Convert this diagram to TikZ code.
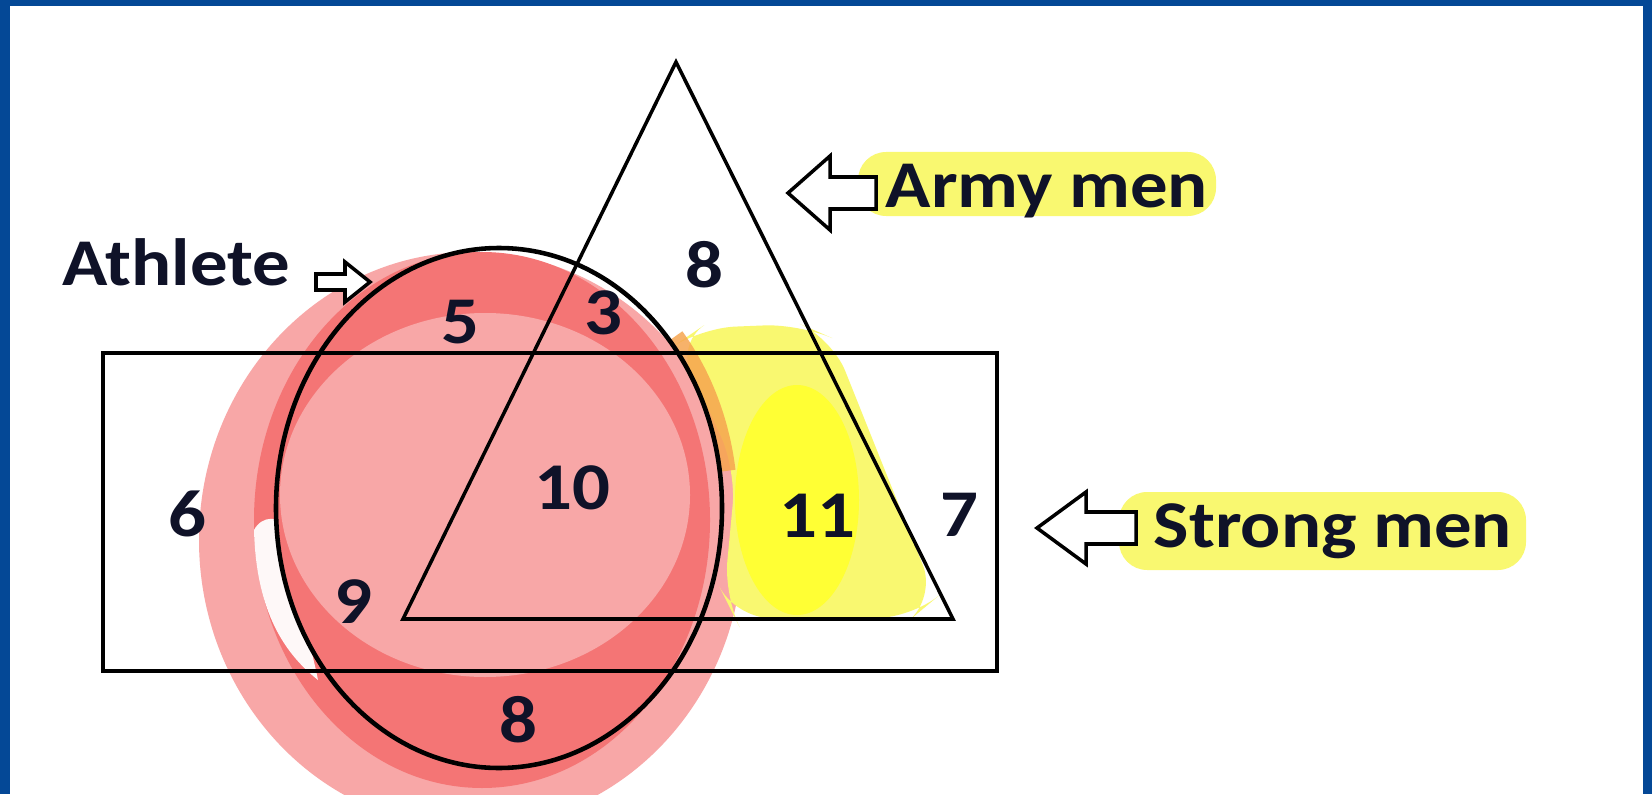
\documentclass[tikz,border=0pt]{standalone}
\usepackage{fontspec}
\setmainfont{Carlito}[FakeStretch=1.12]
\usepackage{xcolor}
\definecolor{frameblue}{RGB}{4,72,150}
\definecolor{pinklight}{RGB}{248,167,167}
\definecolor{pinkdark}{RGB}{244,117,117}
\definecolor{hlyellow}{RGB}{249,248,112}
\definecolor{brightyellow}{RGB}{255,255,52}
\definecolor{hlorange}{RGB}{246,165,80}
\definecolor{inkcol}{RGB}{15,18,40}

\tikzset{
  setline/.style={draw=black, line width=1pt},
  pointer/.style={draw=black, fill=white, line width=1pt, line join=miter},
  lbl/.style={inner sep=0pt, text=inkcol},
  num/.style={inner sep=0pt, text=inkcol}
}

\begin{document}
\begin{tikzpicture}[x=0.01cm, y=-0.01cm, font=\bfseries\fontsize{19}{19}\selectfont, text centered]
    \useasboundingbox (0,0) rectangle (1652,794);
    \clip (0,0) rectangle (1652,794);
    % Frame
    \fill[frameblue] (0,0) rectangle (1652,794);
    \fill[white] (10,6) rectangle (1643,794);

    % Marker strokes
    \fill[pinklight] (471,540) ellipse [x radius=272, y radius=288];
    \fill[pinkdark] (482,520) ellipse [x radius=228, y radius=268];
    \fill[pinklight] (485,495) ellipse [x radius=205, y radius=182];
    \begin{scope}[even odd rule]
      \clip (0,0) rectangle (1652,794) (499,508) ellipse [x radius=223, y radius=260];
      \fill[white!92!pinklight] (254,530) .. controls (256,605) and (280,650) .. (318,680)
        .. controls (310,640) and (296,600) .. (292,530) .. controls (280,515) and (262,515) .. (254,530) -- cycle;
    \end{scope}
    \fill[hlyellow, rounded corners=10pt] (675,345) -- (700,328) -- (800,324) -- (832,338)
      -- (936,598) -- (912,618) -- (735,618) -- (724,596) -- (736,470) -- (700,390) -- cycle;
    \draw[hlorange, line width=5pt, opacity=0.85] (499,508) ++(-40:230 and 267) arc [start angle=-40, end angle=-8, x radius=230, y radius=267];
    \fill[brightyellow] (797,500) ellipse [x radius=62, y radius=115];
    \fill[hlyellow, rounded corners=8pt] (858,152) rectangle (1216,216);
    \fill[hlyellow, rounded corners=8pt] (1119,492) rectangle (1526,570);

    % Sets
    \draw[setline] (103,353) rectangle (997,671);
    \draw[setline] (676,62) -- (953,619) -- (403,619) -- cycle;
    \draw[setline, line width=1.3pt] (499,508) ellipse [x radius=223, y radius=260];

    % Set names
    \node[lbl, anchor=base west] (athlete) at (62,285) {Athlete};
    \node[lbl, anchor=base west] (army) at (885,208) {Army men};
    \node[lbl, anchor=base west] (strong) at (1153,547) {Strong men};

    % Pointers
    \draw[pointer] (370,282) -- (345,262) -- (345,274) -- (316,274) -- (316,290) -- (345,290) -- (345,302) -- cycle;
    \draw[pointer] (788,193) -- (830,156) -- (830,177) -- (876,177) -- (876,209) -- (830,209) -- (830,230) -- cycle;
    \draw[pointer] (1037,528) -- (1086,492) -- (1086,512) -- (1136,512) -- (1136,544) -- (1086,544) -- (1086,564) -- cycle;

    % Region counts
    \node[num] (armyonly) at (704,265) {8};
    \node[num] (athout) at (460,322) {5};
    \node[num] (atharmy) at (603,313) {3};
    \node[num] (strongonly) at (187,514) {6};
    \node[num] (allthree) at (572,488) {10};
    \node[num] (armystrong) at (817,516) {11};
    \node[num] (strongright) at (959,515) {7};
    \node[num] (athstrong) at (353,602) {9};
    \node[num] (athonly) at (518,720) {8};
\end{tikzpicture}
\end{document}
